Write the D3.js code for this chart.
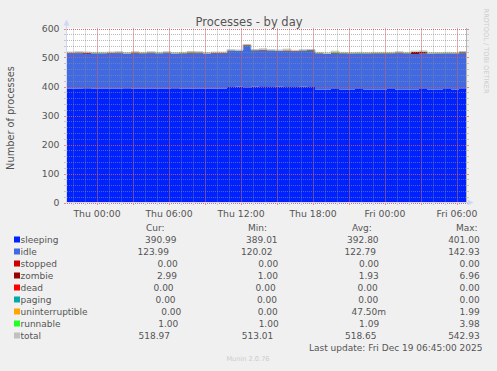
<!DOCTYPE html>
<html>
<head>
<meta charset="utf-8">
<script src="https://cdn.jsdelivr.net/npm/d3@7"></script>
<style>
  html, body { margin: 0; padding: 0; background: #f0f0f0; }
  svg { display: block; font-family: "DejaVu Sans", sans-serif; }
  .pre { white-space: pre; }
</style>
</head>
<body>
<svg id="chart" width="497" height="371"></svg>
<script>
// time window of the "by day" graph (5 min rrd, 400 px)
const startTime = new Date(2025, 11, 17, 21, 30);
const endTime = new Date(2025, 11, 19, 6, 50);
const stepMinutes = 40;

// series values, one per 40 min step
const sleeping = [392, 392, 391, 392, 393, 392, 392, 391, 392, 392, 393, 392, 392, 391, 392, 392, 393, 392, 392, 393,
  398, 399, 397, 399, 401, 398, 399, 398, 398, 399, 398,
  390, 390, 391, 390, 390, 391, 390, 390, 390, 391, 390, 390, 390, 391, 390, 390, 391, 390, 391];
const idle = [122, 123, 122, 122, 121, 122, 123, 122, 122, 121, 122, 122, 123, 122, 121, 122, 122, 121, 122, 121,
  124, 123, 143, 124, 123, 124, 123, 124, 123, 123, 124,
  123, 122, 123, 123, 122, 123, 122, 123, 123, 122, 125, 123, 122, 123, 123, 122, 123, 122, 124];
const stopped = [0, 0, 0, 0, 0, 0, 0, 0, 0, 0, 0, 0, 0, 0, 0, 0, 0, 0, 0, 0, 0, 0, 0, 0, 0,
  0, 0, 0, 0, 0, 0, 0, 0, 0, 0, 0, 0, 0, 0, 0, 0, 0, 0, 0, 0, 0, 0, 0, 0, 0];
const zombie = [2, 2, 3, 1, 1, 2, 2, 1, 3, 2, 2, 1, 2, 1, 2, 3, 2, 1, 2, 2, 2, 1, 2, 2, 3,
  2, 1, 2, 1, 2, 3, 2, 1, 2, 2, 2, 1, 2, 2, 2, 2, 2, 2, 7, 6, 1, 2, 1, 2, 3];
const dead = [0, 0, 0, 0, 0, 0, 0, 0, 0, 0, 0, 0, 0, 0, 0, 0, 0, 0, 0, 0, 0, 0, 0, 0, 0,
  0, 0, 0, 0, 0, 0, 0, 0, 0, 0, 0, 0, 0, 0, 0, 0, 0, 0, 0, 0, 0, 0, 0, 0, 0];
const paging = [0, 0, 0, 0, 0, 0, 0, 0, 0, 0, 0, 0, 0, 0, 0, 0, 0, 0, 0, 0, 0, 0, 0, 0, 0,
  0, 0, 0, 0, 0, 0, 0, 0, 0, 0, 0, 0, 0, 0, 0, 0, 0, 0, 0, 0, 0, 0, 0, 0, 0];
const uninterruptible = [0, 0, 0, 0, 0, 0, 0, 0, 0, 0, 0, 0, 0, 0, 0, 0, 0, 0, 0, 0, 0, 0, 0, 0, 0,
  0, 0, 2, 0, 0, 0, 0, 0, 0, 0, 0, 0, 0, 0, 0, 0, 0, 0, 0, 0, 0, 0, 0, 0, 0];
const runnable = [1, 1, 1, 1, 1, 1, 1, 1, 1, 1, 1, 1, 1, 1, 1, 2, 1, 1, 1, 1, 1, 1, 1, 1, 1,
  1, 1, 1, 1, 1, 1, 1, 1, 4, 1, 1, 1, 1, 1, 1, 1, 1, 1, 1, 1, 1, 1, 1, 1, 1];
const total = [517, 518, 517, 516, 516, 517, 518, 515, 518, 516, 518, 516, 518, 515, 516, 519, 518, 515, 517, 517,
  525, 524, 543, 526, 528, 525, 524, 527, 523, 525, 526,
  516, 514, 520, 516, 515, 516, 515, 516, 516, 516, 518, 516, 520, 521, 515, 515, 516, 515, 519];

const seriesKeys = ['sleeping', 'idle', 'stopped', 'zombie', 'dead', 'paging', 'uninterruptible', 'runnable'];
const seriesColors = ['#0022ff', '#4169e1', '#cc0000', '#990000', '#ff0000', '#00aaaa', '#ffa500', '#22ff22'];
const totalColor = '#c0c0c0';

// legend numbers as printed under the graph
const legendNames = ['sleeping', 'idle', 'stopped', 'zombie', 'dead', 'paging', 'uninterruptible', 'runnable', 'total'];
const statCur = [390.99, 123.99, 0, 2.99, 0, 0, 0, 1.00, 518.97];
const statMin = [389.01, 120.02, 0, 1.00, 0, 0, 0, 1.00, 513.01];
const statAvg = [392.80, 122.79, 0, 1.93, 0, 0, 0.0475, 1.09, 518.65];
const statMax = [401.00, 142.93, 0, 6.96, 0, 0, 1.99, 3.98, 542.93];
const yTicks = [0, 100, 200, 300, 400, 500, 600];

const svg = d3.select('#chart');
const textColor = '#555';
const axisColor = '#cfd6f8';

const plotL = 67, plotR = 467, plotT = 28.5, plotB = 202.5;
const x = d3.scaleTime().domain([startTime, endTime]).range([plotL, plotR]);
const y = d3.scaleLinear().domain([0, 600]).range([plotB, plotT]);

const src = { sleeping, idle, stopped, zombie, dead, paging, uninterruptible, runnable, total };
const rows = sleeping.map((_, i) => {
  const r = { t: d3.timeMinute.offset(startTime, i * stepMinutes) };
  for (const k of Object.keys(src)) r[k] = src[k][i];
  return r;
});
// hold last value to the right edge
rows.push({ ...rows[rows.length - 1], t: endTime });

// canvas
svg.append('rect').attr('x', plotL).attr('y', 28).attr('width', plotR - plotL).attr('height', plotB - 28)
  .attr('fill', '#ffffff');

// stacked areas
const stacked = d3.stack().keys(seriesKeys)(rows);
const area = d3.area()
  .curve(d3.curveStepAfter)
  .x((d) => x(d.data.t))
  .y0((d) => y(d[0]))
  .y1((d) => y(d[1]));

svg.append('g').selectAll('path')
  .data(stacked)
  .join('path')
  .attr('fill', (d, i) => seriesColors[i])
  .attr('d', area);

svg.append('path')
  .datum(rows)
  .attr('fill', 'none')
  .attr('stroke', totalColor)
  .attr('stroke-width', 1)
  .attr('d', d3.line().curve(d3.curveStepAfter).x((d) => x(d.t)).y((d) => y(d.total) - 0.5));

// grid (drawn over the graph, like rrdtool)
const minorGrid = 'rgba(140,140,140,0.6)';
const majorGrid = 'rgba(230,80,80,0.65)';
const grid = svg.append('g').attr('stroke-width', 1).attr('stroke-dasharray', '1,1');

const hours = x.ticks(d3.timeHour.every(1));
const hours3 = x.ticks(d3.timeHour.every(3));
const px = (v) => Math.round(v) + 0.5;

grid.selectAll('line.vmin').data(hours).join('line')
  .attr('x1', (d) => px(x(d))).attr('x2', (d) => px(x(d)))
  .attr('y1', plotT).attr('y2', plotB).attr('stroke', minorGrid);
grid.selectAll('line.hmin').data(d3.range(0, 601, 20)).join('line')
  .attr('x1', plotL).attr('x2', plotR)
  .attr('y1', (d) => px(y(d))).attr('y2', (d) => px(y(d))).attr('stroke', minorGrid);
grid.selectAll('line.vmaj').data(hours3).join('line')
  .attr('x1', (d) => px(x(d))).attr('x2', (d) => px(x(d)))
  .attr('y1', plotT).attr('y2', plotB).attr('stroke', majorGrid);
grid.selectAll('line.hmaj').data(yTicks).join('line')
  .attr('x1', plotL).attr('x2', plotR)
  .attr('y1', (d) => px(y(d))).attr('y2', (d) => px(y(d))).attr('stroke', majorGrid);

// small ticks outside the canvas
const ticks = svg.append('g').attr('stroke-width', 1);
for (const [list, col] of [[hours, '#c8c8c8'], [hours3, '#e88a8a']]) {
  list.forEach((d) => {
    const xx = px(x(d));
    ticks.append('line').attr('x1', xx).attr('x2', xx).attr('y1', 203).attr('y2', 205).attr('stroke', col);
  });
}
for (const [list, col] of [[d3.range(0, 601, 20), '#c8c8c8'], [yTicks, '#e88a8a']]) {
  list.forEach((d) => {
    const yy = px(y(d));
    ticks.append('line').attr('x1', 64).attr('x2', 66).attr('y1', yy).attr('y2', yy).attr('stroke', col);
    ticks.append('line').attr('x1', 467).attr('x2', 469).attr('y1', yy).attr('y2', yy).attr('stroke', col);
  });
}
svg.append('line').attr('x1', 466.5).attr('x2', 466.5).attr('y1', 28).attr('y2', 202)
  .attr('stroke', '#b4b4b4');

// axes + arrows
svg.append('line').attr('x1', 66.5).attr('x2', 66.5).attr('y1', 203).attr('y2', 24).attr('stroke', axisColor);
svg.append('line').attr('x1', 66).attr('x2', 469).attr('y1', 202.5).attr('y2', 202.5).attr('stroke', axisColor);
svg.append('path').attr('d', 'M63.5,25.5L66.5,19.5L69.5,25.5Z').attr('fill', axisColor);
svg.append('path').attr('d', 'M467.5,199.5L473.5,202.5L467.5,205.5Z').attr('fill', axisColor);

// tick labels
svg.append('g').selectAll('text').data(yTicks).join('text')
  .attr('x', 59.5).attr('y', (d) => y(d) + 3.3)
  .attr('text-anchor', 'end').attr('font-size', 9.3).attr('fill', textColor)
  .text((d) => d);

const fmtTime = d3.timeFormat('%a %H:%M');
svg.append('g').selectAll('text').data(x.ticks(d3.timeHour.every(6))).join('text')
  .attr('x', (d) => x(d)).attr('y', 216.5)
  .attr('text-anchor', 'middle').attr('font-size', 9.3).attr('fill', textColor)
  .text((d) => fmtTime(d));

// titles
svg.append('text').attr('x', 249).attr('y', 25.5).attr('text-anchor', 'middle')
  .attr('font-size', 11.5).attr('fill', textColor).text('Processes - by day');
svg.append('text').attr('transform', 'translate(13.5,118) rotate(-90)').attr('text-anchor', 'middle')
  .attr('font-size', 9.8).attr('fill', textColor).text('Number of processes');
svg.append('text').attr('transform', 'translate(483.5,51) rotate(90)').attr('text-anchor', 'middle')
  .attr('font-size', 6.6).attr('fill', '#cccccc').text('RRDTOOL / TOBI OETIKER');
svg.append('text').attr('x', 248).attr('y', 360.5).attr('text-anchor', 'middle')
  .attr('font-size', 6.6).attr('fill', '#cccccc').text('Munin 2.0.76');

// legend, justified rows like rrdtool's \j
function rrdFmt(v) {
  if (v !== 0 && Math.abs(v) < 1) return (v * 1000).toFixed(2).padStart(6) + 'm';
  return v.toFixed(2).padStart(6) + ' ';
}

const leg = svg.append('g').attr('font-size', 9).attr('fill', textColor);
const legendLeft = 20.5;
const legendRight = 482.5;
const legendTop = 242.8;
const rowStep = 12;
const labelPad = d3.max(legendNames, (d) => d.length);

[['Cur:', 146], ['Min:', 248], ['Avg:', 352], ['Max:', 456]].forEach(([h, hx]) => {
  leg.append('text').attr('x', hx).attr('y', legendTop - rowStep + 0.5).text(h);
});

legendNames.forEach((name, r) => {
  const yb = legendTop + r * rowStep;
  const items = [name.padEnd(labelPad), rrdFmt(statCur[r]), rrdFmt(statMin[r]), rrdFmt(statAvg[r]), rrdFmt(statMax[r])];
  const texts = items.map((s) => leg.append('text')
    .attr('class', 'pre').attr('xml:space', 'preserve').attr('y', yb).text(s));
  const widths = texts.map((t) => t.node().getComputedTextLength());
  const glue = (legendRight - legendLeft - d3.sum(widths)) / (items.length - 1);
  let cx = legendLeft;
  texts.forEach((t, k) => {
    t.attr('x', cx);
    cx += widths[k] + glue;
  });
  leg.append('rect').attr('x', 14).attr('y', yb - 6.3).attr('width', 6).attr('height', 6)
    .attr('fill', r < seriesColors.length ? seriesColors[r] : totalColor);
});

leg.append('text').attr('x', 482.5).attr('y', 350.5).attr('text-anchor', 'end')
  .text('Last update: Fri Dec 19 06:45:00 2025');
</script>
</body>
</html>
